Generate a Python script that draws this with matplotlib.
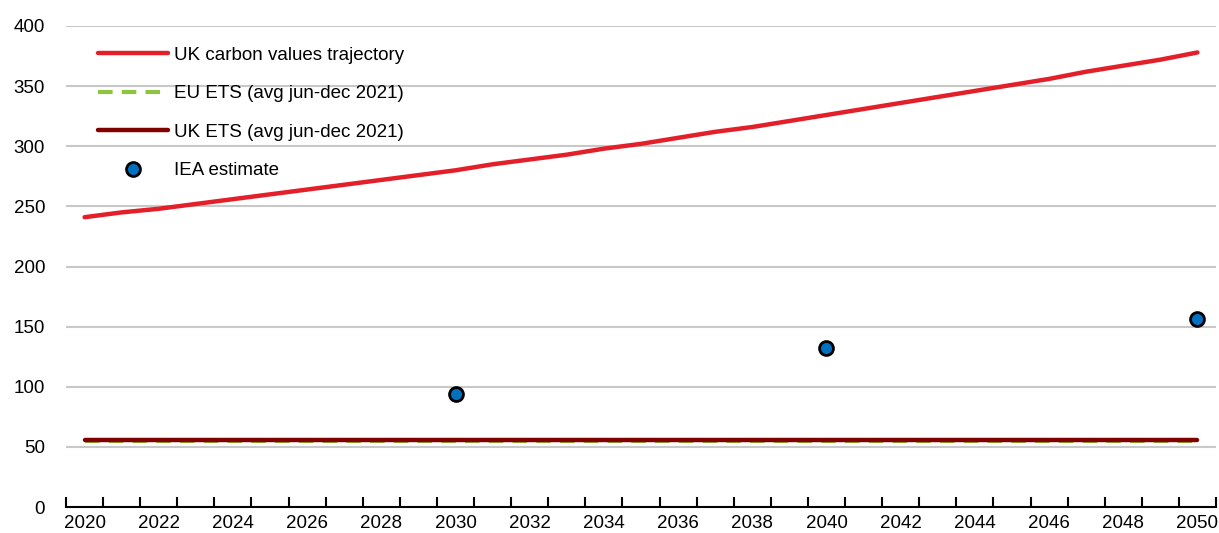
import numpy as np
import matplotlib.pyplot as plt
import warnings

warnings.filterwarnings("ignore")

years = list(range(2020, 2051))
uk_carbon = [241, 245, 248, 252, 256, 260, 264, 268, 272, 276, 280,
             285, 289, 293, 298, 302, 307, 312, 316, 321, 326,
             331, 336, 341, 346, 351, 356, 362, 367, 372, 378]
eu_ets = [54.6] * len(years)
uk_ets = [55.8] * len(years)
iea_years = [2030, 2040, 2050]
iea_values = [94, 132, 156]

plt.rcParams['font.family'] = ['Liberation Sans', 'DejaVu Sans']
plt.rcParams['font.size'] = 13.5

fig = plt.figure(figsize=(12.19, 5.33), dpi=100)
ax = fig.add_axes([66 / 1219, 26 / 533, 1150 / 1219, 481 / 533])

x = np.arange(len(years))
iea_x = [years.index(y) for y in iea_years]

ax.plot(x, uk_carbon, color='#E3202A', lw=3.2, solid_capstyle='round', label='UK carbon values trajectory', zorder=3)
ax.plot(x, eu_ets, color='#8CC63F', lw=3, ls=(0, (3.5, 2.2)), label='EU ETS (avg jun-dec 2021)', zorder=3)
ax.plot(x, uk_ets, color='#800000', lw=3.2, solid_capstyle='round', label='UK ETS (avg jun-dec 2021)', zorder=4)
ax.plot(iea_x, iea_values, ls='none', marker='o', ms=10, mfc='#0070C0', mec='black', mew=2,
        label='IEA estimate', zorder=5)

ax.set_xlim(-0.5, len(years) - 0.5)
ax.set_ylim(0, 400)
ax.set_yticks(range(0, 401, 50))
ax.set_xticks(x[::2])
ax.set_xticklabels([str(y) for y in years[::2]])
ax.set_xticks(np.arange(-0.5, len(years), 1), minor=True)

ax.tick_params(axis='y', length=0, pad=15)
ax.tick_params(axis='x', which='major', length=0, pad=6)
ax.tick_params(axis='x', which='minor', direction='in', length=7, width=1.5, color='black')

for v in range(50, 401, 50):
    ax.axhline(v, color='#C8C8C8', lw=1.5, zorder=1)

for s in ['top', 'right', 'left']:
    ax.spines[s].set_visible(False)
ax.spines['bottom'].set_linewidth(1.5)
ax.spines['bottom'].set_zorder(6)

ax.legend(loc='upper left', bbox_to_anchor=(0.028, 0.957), frameon=False, borderpad=0,
          handlelength=3.7, handletextpad=0.35, labelspacing=1.14, borderaxespad=0)

fig.savefig('out.png', dpi=100)
